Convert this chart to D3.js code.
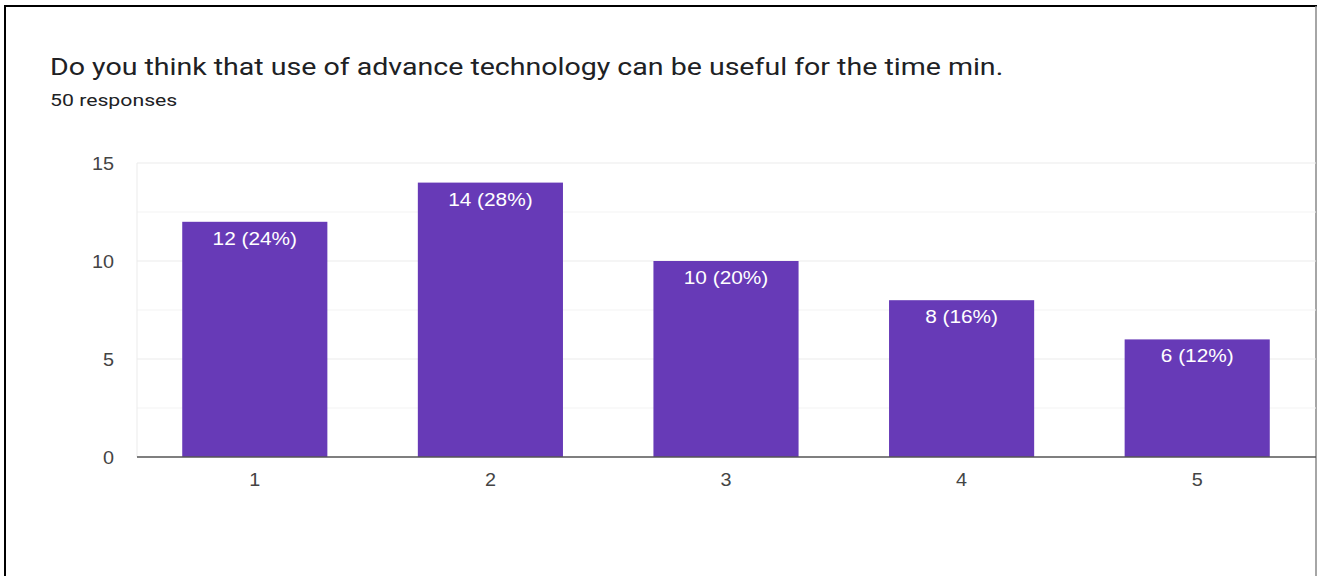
<!DOCTYPE html>
<html>
<head>
<meta charset="utf-8">
<script src="https://cdn.jsdelivr.net/npm/d3@7"></script>
<style>
  body { margin: 0; background: #fff; }
  svg { display: block; }
</style>
</head>
<body>
<script>
// data
var categories = ['1', '2', '3', '4', '5']
var counts = [12, 14, 10, 8, 6]
var percents = ['24%', '28%', '20%', '16%', '12%']
var yTicks = [0, 5, 10, 15]
var yMinor = [2.5, 7.5, 12.5]
var title = 'Do you think that use of advance technology can be useful for the time min.'
var subtitle = '50 responses'

var w = 1317
var h = 576
var plot = { left: 137, right: 1315, top: 163, bottom: 457 }
// the screenshot is a bit stretched sideways
var stretch = 1.19

var svg = d3.select('body')
  .append('svg')
  .attr('width', w)
  .attr('height', h)

// frame
svg.append('line')
  .attr('x1', 4).attr('x2', 1317).attr('y1', 6).attr('y2', 6)
  .attr('stroke', '#000').attr('stroke-width', 2)
svg.append('line')
  .attr('x1', 5).attr('x2', 5).attr('y1', 5).attr('y2', h)
  .attr('stroke', '#000').attr('stroke-width', 2)
svg.append('line')
  .attr('x1', 1316).attr('x2', 1316).attr('y1', 6).attr('y2', h)
  .attr('stroke', '#888').attr('stroke-width', 1.5)

// titles
svg.append('text')
  .attr('transform', 'translate(50,75) scale(' + stretch + ',1)')
  .attr('font-family', 'Roboto, sans-serif')
  .attr('font-size', '24px')
  .attr('fill', '#202124')
  .text(title)
svg.append('text')
  .attr('transform', 'translate(50,106) scale(1.25,1)')
  .attr('font-family', 'Roboto, sans-serif')
  .attr('font-size', '17px')
  .attr('fill', '#202124')
  .text(subtitle)

var xScale = d3.scaleBand()
  .domain(categories)
  .range([plot.left, plot.right])
  .paddingInner(0.384)
  .paddingOuter(0.192)

var yScale = d3.scaleLinear()
  .domain([0, 15])
  .range([plot.bottom, plot.top])

// gridlines
svg.selectAll('line.minor')
  .data(yMinor)
  .enter()
  .append('line')
  .attr('class', 'minor')
  .attr('x1', plot.left).attr('x2', plot.right + 1)
  .attr('y1', function (d) { return yScale(d) })
  .attr('y2', function (d) { return yScale(d) })
  .attr('stroke', '#f3f3f3')
svg.selectAll('line.major')
  .data(yTicks.filter(function (d) { return d > 0 }))
  .enter()
  .append('line')
  .attr('class', 'major')
  .attr('x1', plot.left).attr('x2', plot.right + 1)
  .attr('y1', function (d) { return yScale(d) })
  .attr('y2', function (d) { return yScale(d) })
  .attr('stroke', '#ebebeb')
svg.append('line')
  .attr('x1', plot.left).attr('x2', plot.left)
  .attr('y1', plot.top).attr('y2', plot.bottom)
  .attr('stroke', '#ebebeb')

// y axis labels
svg.selectAll('text.ytick')
  .data(yTicks)
  .enter()
  .append('text')
  .attr('class', 'ytick')
  .attr('transform', function (d) { return 'translate(114,' + (yScale(d) + 6.5) + ') scale(1.1,1)' })
  .attr('text-anchor', 'end')
  .attr('font-family', '"Liberation Sans", Arial, sans-serif')
  .attr('font-size', '18px')
  .attr('fill', '#444')
  .text(function (d) { return d })

// bars
svg.selectAll('rect.bar')
  .data(counts)
  .enter()
  .append('rect')
  .attr('class', 'bar')
  .attr('x', function (d, i) { return xScale(categories[i]) })
  .attr('y', function (d) { return yScale(d) })
  .attr('width', xScale.bandwidth())
  .attr('height', function (d) { return yScale(0) - yScale(d) })
  .attr('fill', '#673ab7')

// bar labels
svg.selectAll('text.lbl')
  .data(counts)
  .enter()
  .append('text')
  .attr('class', 'lbl')
  .attr('transform', function (d, i) {
    var cx = xScale(categories[i]) + xScale.bandwidth() / 2
    return 'translate(' + cx + ',' + (yScale(d) + 23) + ') scale(' + stretch + ',1)'
  })
  .attr('text-anchor', 'middle')
  .attr('font-family', '"Liberation Sans", Arial, sans-serif')
  .attr('font-size', '17.5px')
  .attr('fill', '#fff')
  .text(function (d, i) { return d + ' (' + percents[i] + ')' })

// x axis labels
svg.selectAll('text.xtick')
  .data(categories)
  .enter()
  .append('text')
  .attr('class', 'xtick')
  .attr('transform', function (d) {
    return 'translate(' + (xScale(d) + xScale.bandwidth() / 2) + ',486) scale(1.1,1)'
  })
  .attr('text-anchor', 'middle')
  .attr('font-family', '"Liberation Sans", Arial, sans-serif')
  .attr('font-size', '18px')
  .attr('fill', '#444')
  .text(function (d) { return d })

// baseline
svg.append('line')
  .attr('x1', plot.left).attr('x2', plot.right + 1)
  .attr('y1', plot.bottom).attr('y2', plot.bottom)
  .attr('stroke', '#555').attr('stroke-width', 1.5)
</script>
</body>
</html>
